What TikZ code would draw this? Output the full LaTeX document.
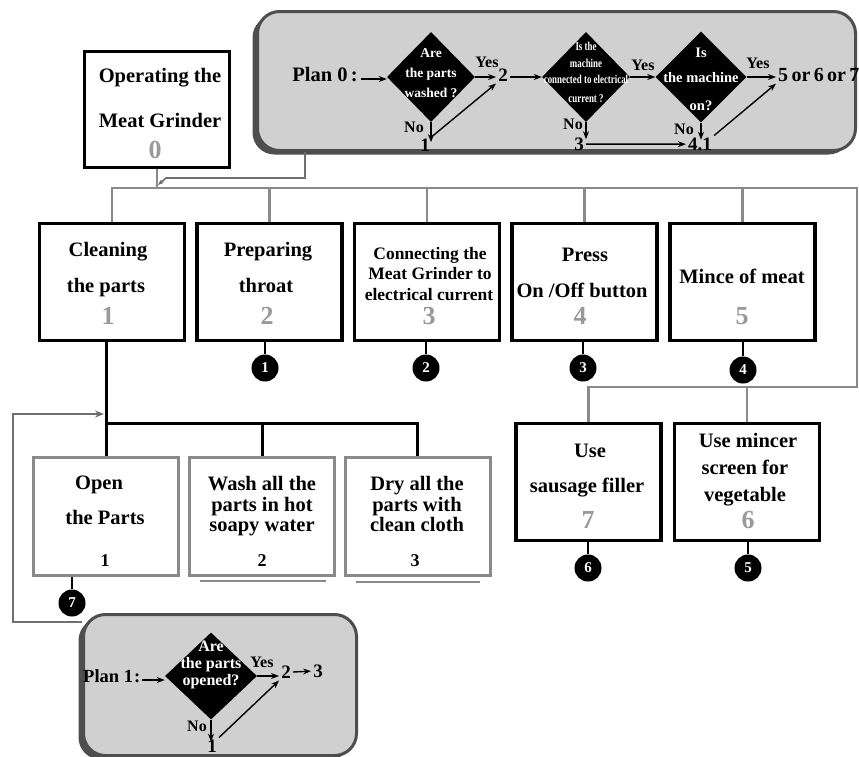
\documentclass[tikz,border=0pt]{standalone}
\usepackage{fontspec}
\usepackage{graphicx}
\setmainfont{Liberation Serif}
\usetikzlibrary{arrows.meta,shapes.geometric,shadows}
\definecolor{busgray}{HTML}{8A8A8A}
\definecolor{numgray}{HTML}{9A9A9A}
\definecolor{planfill}{HTML}{D0D0D0}
\definecolor{planedge}{HTML}{4E4E4E}
\definecolor{fbgray}{HTML}{6E6E6E}
\tikzset{
  mainbox/.style={draw=black, line width=3.2pt, fill=white, minimum width=145pt, minimum height=117pt, inner sep=0pt},
  subbox/.style={draw=busgray, line width=3pt, fill=white, minimum width=145pt, minimum height=118pt, inner sep=0pt},
  bus/.style={draw=busgray, line width=2.6pt},
  blk/.style={draw=black, line width=3pt},
  badge/.style={circle, fill=black, minimum size=27pt, inner sep=0pt, text=white, font=\fontsize{15}{15}\selectfont\bfseries},
  lbl/.style={anchor=mid, inner sep=0pt, font=\fontsize{20.5}{24}\selectfont\bfseries},
  lblsm/.style={anchor=mid, inner sep=0pt, font=\fontsize{17.5}{20}\selectfont\bfseries},
  num/.style={anchor=mid, inner sep=0pt, text=numgray, font=\fontsize{26}{26}\selectfont\bfseries},
  numb/.style={anchor=mid, inner sep=0pt, font=\fontsize{18}{18}\selectfont\bfseries},
  planbox/.style={rounded corners=22pt, fill=planfill, draw=planedge, line width=3pt, inner sep=0pt,
     drop shadow={shadow xshift=-5pt, shadow yshift=-4pt, fill=planedge, opacity=1}},
  dia/.style={diamond, fill=black, inner sep=0pt},
  wt/.style={anchor=mid, inner sep=0pt, text=white},
  ptxt/.style={anchor=mid, inner sep=2pt, font=\fontsize{19}{19}\selectfont\bfseries},
  yn/.style={anchor=mid, inner sep=0pt, font=\fontsize{16}{16}\selectfont\bfseries},
  arr/.style={-{Stealth[length=8pt,width=6pt]}, line width=1.4pt, draw=black},
  fb/.style={draw=fbgray, line width=2.5pt, -{Stealth[length=9pt,width=7pt]}},
  thinarr/.style={draw=fbgray, line width=1.6pt, -{Stealth[length=6pt,width=4.5pt]}}
}
\begin{document}
\begin{tikzpicture}[x=1pt,y=-1pt]
\useasboundingbox (0,0) rectangle (859,756);
\fill[white] (0,0) rectangle (859,756);

% ---------- coordinates for connectors
\coordinate (busy) at (0,188);
\coordinate (busR) at (857,188);
\coordinate (busRd) at (857,387);
\coordinate (juncy) at (0,423);
\coordinate (p0link) at (305,178);
\coordinate (p0turn) at (166,178);
\coordinate (topin) at (158,185);
\coordinate (fbL) at (13,622);
\coordinate (fbT) at (104,414);

% ---------- Plan 0 box
\node[planbox, minimum width=598pt, minimum height=139pt] (p0) at (556.5,81) {};

% ---------- boxes
\node[mainbox, minimum height=116pt] (top) at (157,109.5) {};
\node[mainbox] (b1) at (112,282) {};
\node[mainbox] (b2) at (269.5,282) {};
\node[mainbox] (b3) at (427,282) {};
\node[mainbox] (b4) at (584.5,282) {};
\node[mainbox] (b5) at (742.5,282) {};
\node[mainbox] (b7) at (588.5,482) {};
\node[mainbox] (b6) at (747,482) {};
\node[subbox] (sA) at (106,516.5) {};
\node[subbox] (sB) at (262,516.5) {};
\node[subbox] (sC) at (417.5,516.5) {};

% ---------- Plan 1 box
\node[planbox, drop shadow={shadow xshift=-4pt, shadow yshift=-3pt, fill=planedge, opacity=1}, minimum width=273pt, minimum height=141pt] (p1) at (220,685) {};

% ---------- bus connectors
\draw[thinarr] (p0.south -| p0link) -- (p0link) -- (p0turn) -- (topin);
\draw[bus] (top.south) -- (top.south |- busy);
\draw[bus] (b1.north) -- (b1.north |- busy) -- (busR) -- (busRd) -- (b7.north |- busRd) -- (b7.north);
\foreach \b in {b2,b3,b4,b5} \draw[bus] (\b.north) -- (\b.north |- busy);
\draw[bus] (b6.north) -- (b6.north |- busRd);

% ---------- black sub-tree
\draw[blk] (sA.north |- b1.south) -- (sA.north);
\draw[blk] (sA.north |- juncy) -| (sC.north);
\draw[blk] (sB.north |- juncy) -- (sB.north);

% ---------- feedback
\draw[fb] (p1.west |- fbL) -- (fbL) |- (fbT);

% ---------- underlines
\draw[busgray, line width=1.8pt] ([xshift=12pt,yshift=-4pt]sB.south west) -- ([xshift=-10pt,yshift=-4pt]sB.south east);
\draw[busgray, line width=1.8pt] ([xshift=12pt,yshift=-5pt]sC.south west) -- ([xshift=-12pt,yshift=-5pt]sC.south east);

% ---------- badges
\node[badge] (g1) at (265,368) {1};
\node[badge] (g2) at (426,368) {2};
\node[badge] (g3) at (583,368) {3};
\node[badge] (g4) at (743,370) {4};
\node[badge] (g6) at (588,568) {6};
\node[badge] (g5) at (748,568) {5};
\node[badge] (g7) at (72,603) {7};
\draw[blk, line width=2.5pt] (b2.south -| g1) -- (g1.north);
\draw[blk, line width=2.5pt] (b3.south -| g2) -- (g2.north);
\draw[blk, line width=2.5pt] (b4.south -| g3) -- (g3.north);
\draw[blk, line width=2.5pt] (b5.south -| g4) -- (g4.north);
\draw[blk, line width=2.5pt] (b7.south -| g6) -- (g6.north);
\draw[blk, line width=2.5pt] (b6.south -| g5) -- (g5.north);
\draw[blk, line width=2.5pt] (sA.south -| g7) -- (g7.north);

% ---------- box texts
\node[lbl] (t0a) at (160,80) {Operating the};
\node[lbl] (t0b) at (160,125) {Meat Grinder};
\node[num] (t0n) at (155,156) {0};

\node[lbl] (t1a) at (108,254) {Cleaning};
\node[lbl] (t1b) at (106,290) {the parts};
\node[num] (t1n) at (108,322) {1};
\node[lbl] (t2a) at (268,254) {Preparing};
\node[lbl] (t2b) at (266,290) {throat};
\node[num] (t2n) at (267,322) {2};
\node[lblsm] (t3a) at (430,257) {Connecting the};
\node[lblsm] (t3b) at (430,277) {Meat Grinder to};
\node[lblsm] (t3c) at (429,298) {electrical current};
\node[num] (t3n) at (429,322) {3};
\node[lbl] (t4a) at (585,259) {Press};
\node[lbl] (t4b) at (582,295) {On /Off button};
\node[num] (t4n) at (580,322) {4};
\node[lbl] (t5a) at (742,281) {Mince of meat};
\node[num] (t5n) at (742,322) {5};

\node[lbl] (t7a) at (590,455) {Use};
\node[lbl] (t7b) at (587,490) {sausage filler};
\node[num] (t7n) at (588,526) {7};
\node[lbl] (t6a) at (748,445) {Use mincer};
\node[lbl] (t6b) at (745,472) {screen for};
\node[lbl] (t6c) at (745,499) {vegetable};
\node[num] (t6n) at (748,526) {6};

\node[lbl] (tAa) at (99,487) {Open};
\node[lbl] (tAb) at (105,522) {the Parts};
\node[numb] (tAn) at (105,564) {1};
\node[lbl] (tBa) at (262,488) {Wash all the};
\node[lbl] (tBb) at (262,509) {parts in hot};
\node[lbl] (tBc) at (262,529) {soapy water};
\node[numb] (tBn) at (262,564) {2};
\node[lbl] (tCa) at (417,488) {Dry all the};
\node[lbl] (tCb) at (417,509) {parts with};
\node[lbl] (tCc) at (417,529) {clean cloth};
\node[numb] (tCn) at (415,564) {3};

% ---------- Plan 0 contents
\node[anchor=mid east, inner sep=3pt, font=\fontsize{20.5}{20}\selectfont\bfseries] (pl0) at (361,79) {Plan 0\,:};
\node[dia, minimum width=88pt, minimum height=90pt] (d1) at (431,77) {};
\node[dia, minimum width=88pt, minimum height=90pt] (d2) at (586,77) {};
\node[dia, minimum width=91pt, minimum height=91pt] (d3) at (701,77) {};

\node[wt, font=\fontsize{13.5}{14}\selectfont\bfseries] (d1a) at (431,55) {Are};
\node[wt, font=\fontsize{13.5}{14}\selectfont\bfseries] (d1b) at (431,75) {the parts};
\node[wt, font=\fontsize{13.5}{14}\selectfont\bfseries] (d1c) at (431,95) {washed ?};

\node[wt, font=\fontsize{12}{12}\selectfont\bfseries] (d2a) at (586,48) {\scalebox{0.74}[1]{Is the}};
\node[wt, font=\fontsize{12}{12}\selectfont\bfseries] (d2b) at (586,65) {\scalebox{0.74}[1]{machine}};
\node[wt, font=\fontsize{12}{12}\selectfont\bfseries] (d2c) at (586,81) {\scalebox{0.74}[1]{connected to electrical}};
\node[wt, font=\fontsize{12}{12}\selectfont\bfseries] (d2d) at (586,100) {\scalebox{0.74}[1]{current ?}};

\node[wt, font=\fontsize{14.5}{15}\selectfont\bfseries] (d3a) at (701,55) {Is};
\node[wt, font=\fontsize{14.5}{15}\selectfont\bfseries] (d3b) at (701,80) {the machine};
\node[wt, font=\fontsize{14.5}{15}\selectfont\bfseries] (d3c) at (701,108) {on?};

\node[ptxt] (n2) at (503,79) {2};
\node[ptxt] (n1) at (425,149) {1};
\node[ptxt] (n3) at (579,148) {3};
\node[ptxt] (n41) at (700,148) {4.1};
\node[anchor=mid west, inner sep=2pt, font=\fontsize{20}{20}\selectfont\bfseries] (n5) at (776,79) {5\,or\,6\,or\,7};

\node[yn] (y1) at (487,65) {Yes};
\node[yn] (y2) at (643,68) {Yes};
\node[yn] (y3) at (758,66) {Yes};
\node[yn] (no1) at (414,130) {No};
\node[yn] (no2) at (573,127) {No};
\node[yn] (no3) at (684,132) {No};

\draw[arr] (pl0.mid east) -- (pl0.mid east -| d1.west);
\draw[arr] (d1.east) -- (d1.east -| n2.west);
\draw[arr] (n2.east |- d2.west) -- (d2.west);
\draw[arr] (d2.east) -- (d3.west);
\draw[arr] (d3.east) -- (d3.east -| n5.west);
\draw[arr] (d1.south) -- ++(0,20);
\draw[arr] (d2.south) -- ++(0,17);
\draw[arr] (d3.south) -- ++(0,17);
\draw[arr] (n1.north east) -- (n2.south west);
\draw[arr] (n3.east) -- (n41.west);
\draw[arr] (n41.north east) -- (n5.south west);

% ---------- Plan 1 contents
\node[anchor=mid west, inner sep=2pt, font=\fontsize{18.5}{18}\selectfont\bfseries] (pl1) at (81,680) {Plan 1\kern1pt:};
\node[dia, minimum width=92pt, minimum height=87pt] (dp) at (211,676) {};
\node[wt, font=\fontsize{16}{16}\selectfont\bfseries] (dpa) at (211,649) {Are};
\node[wt, font=\fontsize{16}{16}\selectfont\bfseries] (dpb) at (211,666) {the parts};
\node[wt, font=\fontsize{16}{16}\selectfont\bfseries] (dpc) at (211,683) {opened?};
\node[ptxt] (m2) at (286,676) {2};
\node[ptxt] (m3) at (318,675) {3};
\node[ptxt] (m1) at (212,750) {1};
\node[yn] (yp) at (262,665) {Yes};
\node[yn] (nop) at (197,729) {No};

\draw[arr] (pl1.mid east) -- (pl1.mid east -| dp.west);
\draw[arr] (dp.east) -- (dp.east -| m2.west);
\draw[arr] (m2.east) -- (m3.west);
\draw[arr] (dp.south) -- ++(0,22);
\draw[arr] (m1.north east) -- (m2.south west);
\end{tikzpicture}
\end{document}
